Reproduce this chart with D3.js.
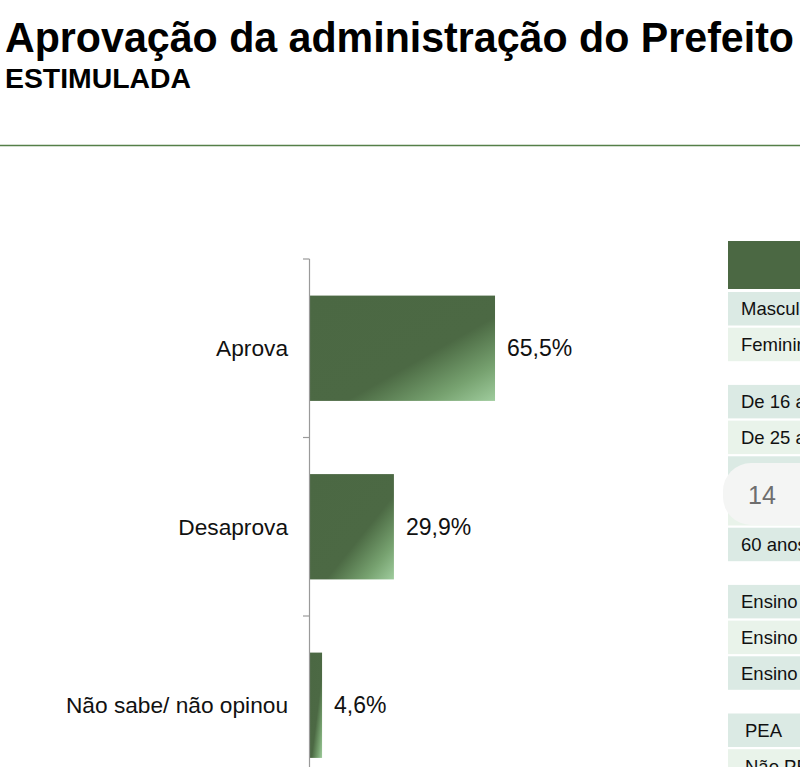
<!DOCTYPE html>
<html>
<head>
<meta charset="utf-8">
<script src="https://cdn.jsdelivr.net/npm/d3@7"></script>
<style>
  html, body { margin: 0; padding: 0; background: #ffffff; overflow: hidden; }
  svg { display: block; }
</style>
</head>
<body>
<script>
// ---- data ----
const title = "Aprovação da administração do Prefeito";
const subtitle = "ESTIMULADA";
const categories = ["Aprova", "Desaprova", "Não sabe/ não opinou"];
const values = [65.5, 29.9, 4.6];
const valueLabels = ["65,5%", "29,9%", "4,6%"];
// rows hidden behind the page-number badge in the reference are left unlabeled (null)
const tableGroup1 = ["Masculino", "Feminino"];
const tableGroup2 = ["De 16 a 24 anos", "De 25 a 34 anos", null, null, "60 anos ou mais"];
const tableGroup3 = ["Ensino Fundamental", "Ensino Médio", "Ensino Superior"];
const tableGroup4 = ["PEA", "Não PEA"];
const pageNumber = "14";

// ---- drawing ----
const W = 800, H = 767;
const svg = d3.select("body").append("svg").attr("width", W).attr("height", H);

const defs = svg.append("defs");
const grad = defs.append("linearGradient").attr("id", "barGrad")
  .attr("x1", 0).attr("y1", 0).attr("x2", 1).attr("y2", 1);
[[0, "#4b6843"], [0.6, "#4c6944"], [0.65, "#55764d"], [0.83, "#77a270"], [1, "#9fcc9d"]]
  .forEach(([o, c]) => grad.append("stop").attr("offset", o).attr("stop-color", c));

// title
svg.append("text").attr("x", 5).attr("y", 52)
  .attr("font-family", "'Liberation Sans Narrow', 'Liberation Sans', Arial, sans-serif")
  .attr("font-weight", "bold").attr("font-size", 43).attr("fill", "#000")
  .attr("textLength", 789).attr("lengthAdjust", "spacingAndGlyphs")
  .text(title);
svg.append("text").attr("x", 5).attr("y", 88)
  .attr("font-family", "'Liberation Sans Narrow', 'Liberation Sans', Arial, sans-serif")
  .attr("font-weight", "bold").attr("font-size", 28).attr("fill", "#000")
  .attr("textLength", 186).attr("lengthAdjust", "spacingAndGlyphs")
  .text(subtitle);

// separator
svg.append("line").attr("x1", 0).attr("x2", W).attr("y1", 145.5).attr("y2", 145.5)
  .attr("stroke", "#557f48").attr("stroke-width", 1.6);

// bar chart
const x0 = 309;
const x = d3.scaleLinear().domain([0, 100]).range([x0, x0 + 284]);
const y = d3.scaleBand().domain(categories).range([259, 259 + 3 * 178.5])
  .paddingInner(0.41).paddingOuter(0.205);

const chart = svg.append("g");
chart.selectAll("rect.bar").data(categories).join("rect")
  .attr("class", "bar")
  .attr("x", x(0))
  .attr("y", d => y(d))
  .attr("width", (d, i) => x(values[i]) - x(0))
  .attr("height", y.bandwidth())
  .attr("fill", "url(#barGrad)");

// axis line and boundary ticks
chart.append("line").attr("x1", x0 + 0.5).attr("x2", x0 + 0.5)
  .attr("y1", y.range()[0]).attr("y2", y.range()[1])
  .attr("stroke", "#9a9a9a").attr("stroke-width", 1.2);
const gapHalf = (y.step() - y.bandwidth()) / 2;
chart.selectAll("line.tick").data(categories).join("line")
  .attr("class", "tick")
  .attr("x1", x0 - 6).attr("x2", x0 + 0.5)
  .attr("y1", d => y(d) - gapHalf).attr("y2", d => y(d) - gapHalf)
  .attr("stroke", "#9a9a9a").attr("stroke-width", 1.2);

// category labels
chart.selectAll("text.cat").data(categories).join("text")
  .attr("class", "cat")
  .attr("x", 288).attr("y", d => y(d) + y.bandwidth() / 2)
  .attr("dy", "0.35em").attr("text-anchor", "end")
  .attr("font-family", "'Liberation Sans', Arial, sans-serif")
  .attr("font-size", 22.7).attr("fill", "#111")
  .text(d => d);

// value labels
chart.selectAll("text.val").data(categories).join("text")
  .attr("class", "val")
  .attr("x", (d, i) => x(values[i]) + 12).attr("y", d => y(d) + y.bandwidth() / 2)
  .attr("dy", "0.35em")
  .attr("font-family", "'Liberation Sans', Arial, sans-serif")
  .attr("font-size", 23).attr("fill", "#111")
  .text((d, i) => valueLabels[i]);

// table on right (cut off by page edge)
const tbl = svg.append("g");
const tx = 728;
tbl.append("rect").attr("x", tx).attr("y", 241).attr("width", W - tx + 10).attr("height", 48)
  .attr("fill", "#4b6843");
const groups = [tableGroup1, tableGroup2, tableGroup3, tableGroup4];
const rows = [];
groups.forEach((g, gi) => g.forEach((lab, li) => rows.push({ lab, gi, li })));
rows.forEach((r, idx) => {
  const ry = 292 + idx * 35.7 + r.gi * 21.5;
  tbl.append("rect").attr("x", tx).attr("y", ry).attr("width", W - tx + 10).attr("height", 33.5)
    .attr("fill", r.li % 2 === 0 ? "#dbeae4" : "#e9f3ea");
  if (r.lab) {
    tbl.append("text").attr("x", r.gi === 3 ? 745 : 741).attr("y", ry + 17)
      .attr("dy", "0.35em")
      .attr("font-family", "'Liberation Sans', Arial, sans-serif")
      .attr("font-size", 18.5).attr("fill", "#111")
      .text(r.lab);
  }
});

// page number overlay
svg.append("rect").attr("x", 723).attr("y", 463).attr("width", 110).attr("height", 62)
  .attr("rx", 28).attr("ry", 28).attr("fill", "#f4f5f4");
svg.append("text").attr("x", 748).attr("y", 504)
  .attr("font-family", "'Liberation Sans', Arial, sans-serif")
  .attr("font-size", 25).attr("fill", "#6e6e6e")
  .text(pageNumber);
</script>
</body>
</html>
